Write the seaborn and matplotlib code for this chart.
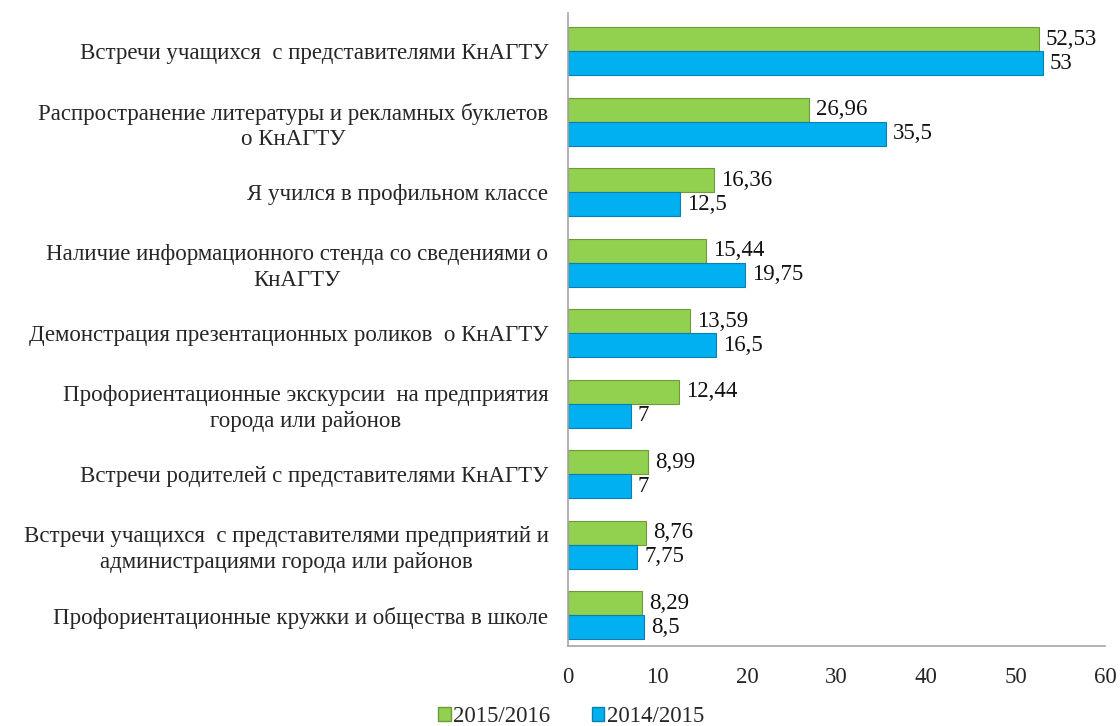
import matplotlib
matplotlib.use("Agg")
from matplotlib import pyplot as plt
from matplotlib.patches import Patch
import pandas as pd
import seaborn as sns

categories = [
    "Встречи учащихся  с представителями КнАГТУ",
    "Распространение литературы и рекламных буклетов\nо КнАГТУ",
    "Я учился в профильном классе",
    "Наличие информационного стенда со сведениями о\nКнАГТУ",
    "Демонстрация презентационных роликов  о КнАГТУ",
    "Профориентационные экскурсии  на предприятия\nгорода или районов",
    "Встречи родителей с представителями КнАГТУ",
    "Встречи учащихся  с представителями предприятий и\nадминистрациями города или районов",
    "Профориентационные кружки и общества в школе",
]
values_2015_2016 = [52.53, 26.96, 16.36, 15.44, 13.59, 12.44, 8.99, 8.76, 8.29]
values_2014_2015 = [53, 35.5, 12.5, 19.75, 16.5, 7, 7, 7.75, 8.5]
series = ["2015/2016", "2014/2015"]
colors = ["#92D050", "#00B0F0"]
edges = ["#6E9A3A", "#0A7FB0"]

df = pd.DataFrame({
    "cat": categories * 2,
    "val": values_2015_2016 + values_2014_2015,
    "year": [series[0]] * len(categories) + [series[1]] * len(categories),
})

sns.set_style("white")
plt.rcParams["font.family"] = ["Liberation Serif", "DejaVu Serif"]

fig = plt.figure(figsize=(11.2, 7.26), dpi=100)
ax = fig.add_axes([0.507, 0.110, 0.480, 0.872])

sns.barplot(data=df, y="cat", x="val", hue="year", hue_order=series,
            palette=colors, orient="h", width=0.68, ax=ax, legend=False,
            saturation=1)

for cont, ec in zip(ax.containers, edges):
    for p in cont:
        p.set_edgecolor(ec)
        p.set_linewidth(0.8)
    labels = [f"{v:g}".replace(".", ",") for v in cont.datavalues]
    ax.bar_label(cont, labels=labels, padding=5, fontsize=16.5, color="#111111")

ax.set_xlim(0, 60)
ax.set_xticks(range(0, 61, 10))
ax.set_ylim(8.44, -0.54)
ax.set_xlabel("")
ax.set_ylabel("")

for s in ["top", "right"]:
    ax.spines[s].set_visible(False)
for s in ["left", "bottom"]:
    ax.spines[s].set_color("#A6A6A6")
    ax.spines[s].set_linewidth(1.2)

ax.tick_params(axis="x", length=0, pad=15, labelsize=16.5)
ax.tick_params(axis="y", length=0, pad=14, labelsize=16.5)
for t in ax.get_yticklabels():
    t.set_multialignment("center")
    t.set_linespacing(1.3)

handles = [Patch(facecolor=c, edgecolor=e) for c, e in zip(colors, edges)]
fig.legend(handles, series, loc="lower center", bbox_to_anchor=(0.51, -0.03),
           ncol=2, frameon=False, fontsize=16.5, handlelength=0.55,
           handleheight=0.55, handletextpad=0.1, columnspacing=1.8)

plt.savefig("out.png", dpi=100)
